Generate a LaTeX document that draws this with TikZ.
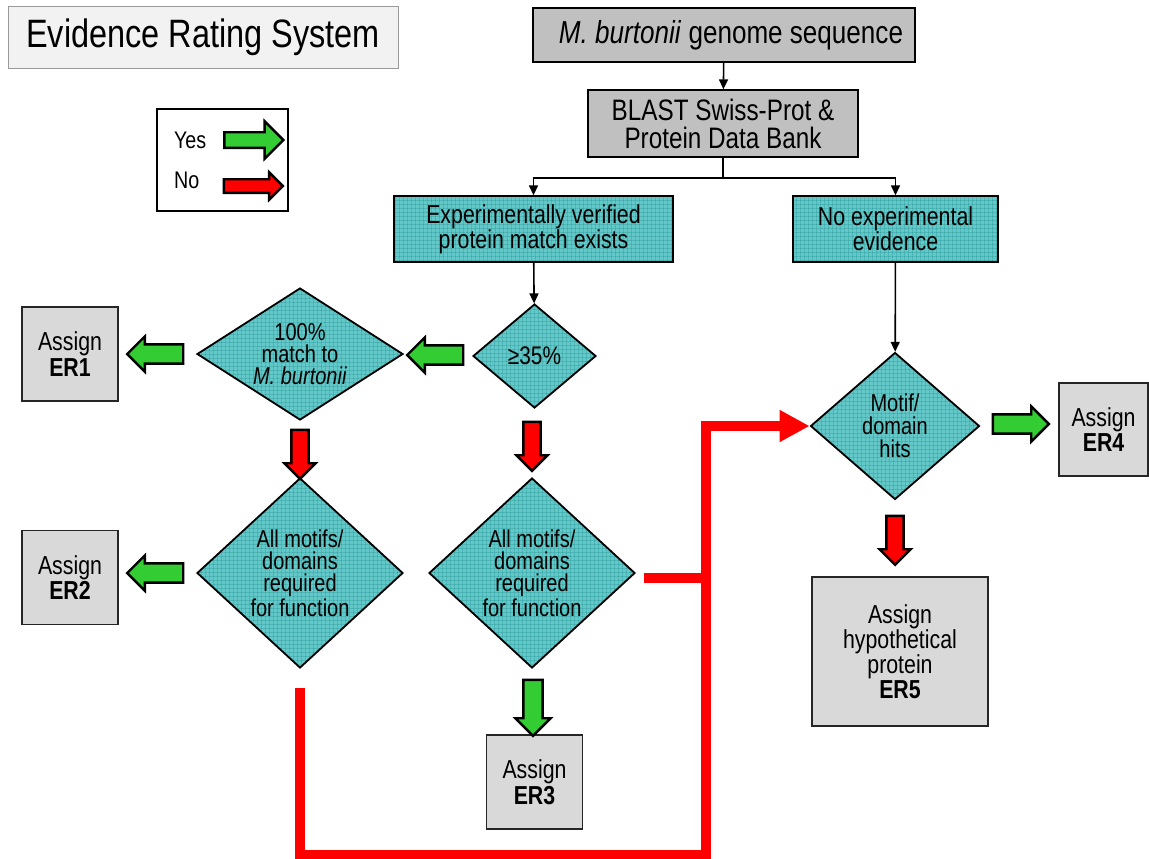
\documentclass[tikz,border=0pt]{standalone}
\usepackage{fontspec}
\setmainfont{Liberation Sans}[FakeStretch=0.82]
\usetikzlibrary{arrows.meta,shapes.geometric,shapes.arrows,patterns.meta,positioning}
\definecolor{tealfill}{RGB}{100,200,200}
\definecolor{tealgrid}{RGB}{40,150,150}
\definecolor{boxgray}{RGB}{192,192,192}
\definecolor{assigngray}{RGB}{217,217,217}
\definecolor{titlegray}{RGB}{242,242,242}
\definecolor{yesgreen}{RGB}{51,204,51}
\tikzdeclarepattern{name=finegrid, type=uncolored,
  bounding box={(0,0) and (2.2pt,2.2pt)}, tile size={(2.2pt,2.2pt)},
  code={\draw[line width=0.35pt] (0,0)--(2.2pt,0) (0,0)--(0,2.2pt);}}
\tikzstyle{greybox} = [rectangle, draw=black, fill=boxgray, line width=0.7pt, align=center, inner sep=0pt]
\tikzstyle{tealbox} = [rectangle, draw=black, line width=0.7pt, preaction={fill=tealfill}, pattern=finegrid, pattern color=tealgrid, align=center, inner sep=0pt, font=\fontsize{13}{12.5}\selectfont]
\tikzstyle{decision} = [diamond, draw=black, line width=0.9pt, preaction={fill=tealfill}, pattern=finegrid, pattern color=tealgrid, align=center, inner sep=0pt, font=\fontsize{12.2}{11}\selectfont]
\tikzstyle{assignbox} = [rectangle, draw=black!85, fill=assigngray, line width=0.7pt, align=center, inner sep=0pt, font=\fontsize{13}{11.5}\selectfont]
\tikzstyle{thinarrow} = [line width=0.8pt, -{Triangle[length=5pt,width=4.5pt]}]
\tikzstyle{noline} = [red, line width=5pt]
\tikzstyle{yes} = [single arrow, draw=black, line width=1.2pt, fill=yesgreen, inner xsep=0pt, inner ysep=4.2pt, minimum height=28pt, minimum width=0pt, single arrow head extend=4pt]
\tikzstyle{no} = [single arrow, draw=black, line width=1.2pt, fill=red, inner xsep=0pt, inner ysep=3.7pt, minimum height=24.5pt, minimum width=0pt, single arrow head extend=3.5pt]

\begin{document}
\begin{tikzpicture}[x=0.5pt,y=-0.5pt]
  \useasboundingbox (0,0) rectangle (1149,858);
  % title and legend
  \node (title) at (203,37) [rectangle, draw=black!40, fill=titlegray, minimum width=195pt, minimum height=31pt, font=\fontsize{19.8}{22}\selectfont] {Evidence Rating System\hspace{8pt}};
  \node (legend) at (222.5,160) [rectangle, draw=black, line width=0.8pt, fill=white, minimum width=65.5pt, minimum height=51pt] {};
  \node (ltyes) at (167,140) [anchor=west, font=\fontsize{12}{13}\selectfont] {Yes};
  \node (ltno) at (167,180) [anchor=west, font=\fontsize{12}{13}\selectfont] {No};
  \node (lyes) at (250,140) [yes, minimum height=29.5pt, inner ysep=3.3pt, single arrow head extend=5.5pt] {};
  \node (lno) at (250,186) [no, minimum height=29.5pt, inner ysep=2.8pt, single arrow head extend=3.5pt] {};
  % top of the chart
  \node (genome) at (724,35) [greybox, minimum width=191pt, minimum height=27pt, font=\fontsize{15.9}{17}\selectfont] {\hspace{7pt}\textit{M. burtonii} genome sequence};
  \node (blast) at (723,123.5) [greybox, minimum width=135pt, minimum height=33.5pt, font=\fontsize{14.8}{14}\selectfont] {BLAST Swiss-Prot \&\\Protein Data Bank};
  \node (expbox) at (533.5,229) [tealbox, minimum width=139.5pt, minimum height=33pt] {Experimentally verified\\protein match exists};
  \node (noexp) at (895.5,229) [tealbox, minimum width=102.5pt, minimum height=33pt] {No experimental\\evidence};
  \coordinate (split) at (723,178);
  \draw[thinarrow] (genome) -- (blast);
  \draw[line width=0.8pt] (blast) -- (split);
  \draw[thinarrow] (split) -| (expbox);
  \draw[thinarrow] (split) -| (noexp);
  % decisions
  \node (pct) at (534.5,356) [decision, shape aspect=1.18, minimum width=61.5pt, minimum height=52pt, font=\fontsize{12.7}{13}\selectfont] {≥35\%};
  \node (match) at (300,354) [decision, shape aspect=1.56, minimum width=103pt, minimum height=66pt] {100\%\\match to\\\textit{M. burtonii}};
  \node (allmot1) at (300,573) [decision, shape aspect=1.08, minimum width=103pt, minimum height=95pt] {All motifs/\\domains\\required\\for function};
  \node (allmot2) at (532,573) [decision, shape aspect=1.08, minimum width=103pt, minimum height=95pt] {All motifs/\\domains\\required\\for function};
  \node (motif) at (895,426) [decision, shape aspect=1.15, minimum width=84.5pt, minimum height=73.5pt, font=\fontsize{12.2}{11.5}\selectfont] {Motif/\\domain\\hits};
  \draw[thinarrow] (expbox) -- (pct);
  \draw[thinarrow] (noexp) -- (motif);
  % results
  \node (er1) at (70,354) [assignbox, minimum width=48pt, minimum height=47pt] {Assign\\\textbf{ER1}};
  \node (er2) at (70,577.5) [assignbox, minimum width=48pt, minimum height=47pt] {Assign\\\textbf{ER2}};
  \node (er3) at (534.5,782) [assignbox, minimum width=48pt, minimum height=47pt] {Assign\\\textbf{ER3}};
  \node (er4) at (1103.5,429.5) [assignbox, minimum width=44.5pt, minimum height=46.5pt] {Assign\\\textbf{ER4}};
  \node (er5) at (900,651.5) [assignbox, minimum width=88pt, minimum height=74.5pt, font=\fontsize{13}{12.5}\selectfont] {Assign\\hypothetical\\protein\\\textbf{ER5}};
  % yes / no block arrows
  \node (y1) at (440,355) [yes, rotate=180] {};
  \node (y2) at (160,354) [yes, rotate=180] {};
  \node (y3) at (160,573) [yes, rotate=180] {};
  \node (y4) at (533,703) [yes, rotate=-90] {};
  \node (y5) at (1016,424) [yes] {};
  \node (n1) at (300,450) [no, rotate=-90] {};
  \node (n2) at (532,442) [no, rotate=-90] {};
  \node (n3) at (895,536) [no, rotate=-90] {};
  % the long no path
  \coordinate (r0) at (300,688);
  \coordinate (r1) at (644,578);
  \coordinate (rc) at (706,855);
  \draw[noline] (r1) -- (rc |- r1);
  \draw[noline, -{Triangle[length=15pt,width=15pt]}] (r0) |- (rc) |- (motif.west);
\end{tikzpicture}
\end{document}
